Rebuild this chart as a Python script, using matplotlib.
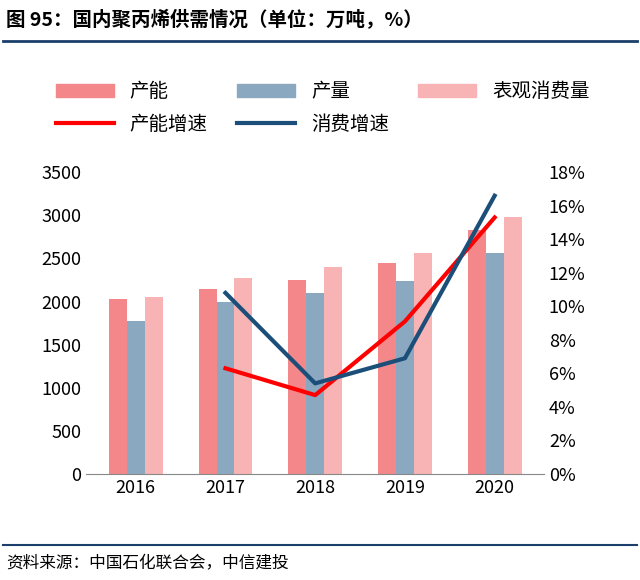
import numpy as np
import matplotlib.pyplot as plt
from matplotlib.lines import Line2D

plt.rcParams['font.family'] = ['Noto Sans CJK SC', 'DejaVu Sans']

years = ['2016', '2017', '2018', '2019', '2020']
capacity = [2025, 2145, 2250, 2445, 2830]
output = [1775, 1995, 2100, 2235, 2560]
consumption = [2050, 2270, 2400, 2560, 2975]
cap_growth = [6.3, 4.7, 9.1, 15.3]
cons_growth = [10.8, 5.4, 6.9, 16.6]

fig = plt.figure(figsize=(6.4, 5.8), dpi=100)
ax = fig.add_axes([0.135, 0.183, 0.715, 0.52])
x = np.arange(len(years))
w = 0.2
ax.bar(x - w, capacity, w, color='#F4878A')
ax.bar(x, output, w, color='#8AA9C1')
ax.bar(x + w, consumption, w, color='#F8B4B4')
ax.set_ylim(0, 3500)
ax.set_yticks(range(0, 3501, 500))
ax.set_xlim(-0.55, 4.55)
ax.set_xticks(x)
ax.set_xticklabels(years)
ax.tick_params(labelsize=13, length=0)
for s in ['top', 'right', 'left']:
    ax.spines[s].set_visible(False)
ax.spines['bottom'].set_color('#888888')

ax2 = ax.twinx()
ax2.plot(x[1:], cap_growth, color='#FF0000', lw=3)
ax2.plot(x[1:], cons_growth, color='#1B4F7A', lw=3)
ax2.set_ylim(0, 18)
ax2.set_yticks(range(0, 19, 2))
ax2.set_yticklabels([f'{v}%' for v in range(0, 19, 2)])
ax2.tick_params(labelsize=13, length=0)
for s in ['top', 'right', 'left', 'bottom']:
    ax2.spines[s].set_visible(False)

# legend fills column-wise, so order for rows: 产能 产量 表观消费量 / 产能增速 消费增速
handles = [plt.Rectangle((0, 0), 1, 1, color='#F4878A'),
           Line2D([], [], color='#FF0000', lw=3),
           plt.Rectangle((0, 0), 1, 1, color='#8AA9C1'),
           Line2D([], [], color='#1B4F7A', lw=3),
           plt.Rectangle((0, 0), 1, 1, color='#F8B4B4')]
labels = ['产能', '产能增速', '产量', '消费增速', '表观消费量']
fig.legend(handles, labels, loc='upper left', bbox_to_anchor=(0.06, 0.89), ncol=3,
           frameon=False, fontsize=14, handlelength=3.0, handleheight=0.7,
           columnspacing=1.5, labelspacing=0.6)

fig.text(0.01, 0.965, '图 95：国内聚丙烯供需情况（单位：万吨，%）', fontsize=14, fontweight='bold', va='center')
fig.add_artist(Line2D([0.005, 0.995], [0.93, 0.93], color='#1B3F6B', lw=2))
fig.add_artist(Line2D([0.005, 0.995], [0.06, 0.06], color='#1B3F6B', lw=1.5))
fig.text(0.01, 0.028, '资料来源：中国石化联合会，中信建投', fontsize=12, style='italic', va='center')

fig.savefig('out.png')
